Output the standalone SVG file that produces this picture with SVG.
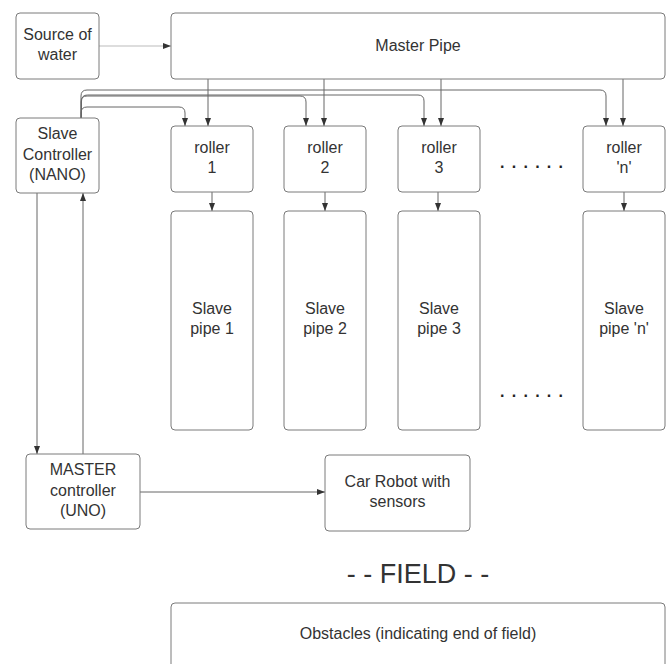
<svg xmlns="http://www.w3.org/2000/svg" width="671" height="664" viewBox="0 0 671 664">
<style>
.box{fill:#fff;stroke:#7a7a7a;stroke-width:1}
.t{font-family:"Liberation Sans",Arial,sans-serif;font-size:16px;fill:#333;text-anchor:middle}
.c{fill:none;stroke:#666;stroke-width:1}
.cl{fill:none;stroke:#bbb;stroke-width:1}
.dots{font-family:"Liberation Sans",Arial,sans-serif;font-size:16px;fill:#222;font-weight:bold}
</style>
<defs>
<marker id="ah" markerUnits="userSpaceOnUse" markerWidth="8" markerHeight="8" viewBox="0 0 8 8" refX="8" refY="4" orient="auto">
<path d="M0,1 L8,4 L0,7 Z" fill="#333"/>
</marker>
</defs>
<rect width="671" height="664" fill="#fff"/>
<g id="connectors">
<path class="cl" d="M99,46 H171" marker-end="url(#ah)"/>
<path class="c" d="M208,79 V126" marker-end="url(#ah)"/>
<path class="c" d="M324,79 V126" marker-end="url(#ah)"/>
<path class="c" d="M441,79 V126" marker-end="url(#ah)"/>
<path class="c" d="M623,79 V126" marker-end="url(#ah)"/>
<path class="c" d="M81,118 V113 Q81,107 87,107 H179 Q185,107 185,113 V126" marker-end="url(#ah)"/>
<path class="c" d="M81,118 V102 Q81,96 87,96 H300 Q306,96 306,102 V126" marker-end="url(#ah)"/>
<path class="c" d="M81.5,118 V101 Q81.5,95 87.5,95 H418 Q424,95 424,101 V126" marker-end="url(#ah)"/>
<path class="c" d="M81,118 V96 Q81,90 87,90 H600 Q606,90 606,96 V126" marker-end="url(#ah)"/>
<path class="c" d="M212,192 V211" marker-end="url(#ah)"/>
<path class="c" d="M325,192 V211" marker-end="url(#ah)"/>
<path class="c" d="M438,192 V211" marker-end="url(#ah)"/>
<path class="c" d="M624,192 V211" marker-end="url(#ah)"/>
<path class="c" d="M37,193 V454" marker-end="url(#ah)"/>
<path class="c" d="M83,454 V193" marker-end="url(#ah)"/>
<path class="c" d="M140,492 H325" marker-end="url(#ah)"/>
</g>
<g id="source"><rect class="box" x="16" y="13" width="83" height="66" rx="4"/><text class="t" x="57.5" y="40">Source of</text><text class="t" x="57.5" y="60">water</text></g>
<g id="master-pipe"><rect class="box" x="171" y="13" width="494" height="66" rx="4"/><text class="t" x="418" y="51">Master Pipe</text></g>
<g id="slave-controller"><rect class="box" x="16" y="118" width="83" height="75" rx="4"/><text class="t" x="57.5" y="139">Slave</text><text class="t" x="57.5" y="160">Controller</text><text class="t" x="57.5" y="180">(NANO)</text></g>
<g id="roller1"><rect class="box" x="171" y="126" width="82" height="66" rx="4"/><text class="t" x="212" y="153">roller</text><text class="t" x="212" y="173">1</text></g>
<g id="roller2"><rect class="box" x="284" y="126" width="82" height="66" rx="4"/><text class="t" x="325" y="153">roller</text><text class="t" x="325" y="173">2</text></g>
<g id="roller3"><rect class="box" x="398" y="126" width="82" height="66" rx="4"/><text class="t" x="439" y="153">roller</text><text class="t" x="439" y="173">3</text></g>
<g id="rollern"><rect class="box" x="583" y="126" width="82" height="66" rx="4"/><text class="t" x="624" y="153">roller</text><text class="t" x="624" y="173">'n'</text></g>
<g id="dots1"><text class="dots" x="500" y="168" textLength="63">......</text></g>
<g id="pipe1"><rect class="box" x="171" y="211" width="82" height="219" rx="4"/><text class="t" x="212" y="314">Slave</text><text class="t" x="212" y="334">pipe 1</text></g>
<g id="pipe2"><rect class="box" x="284" y="211" width="82" height="219" rx="4"/><text class="t" x="325" y="314">Slave</text><text class="t" x="325" y="334">pipe 2</text></g>
<g id="pipe3"><rect class="box" x="398" y="211" width="82" height="219" rx="4"/><text class="t" x="439" y="314">Slave</text><text class="t" x="439" y="334">pipe 3</text></g>
<g id="pipen"><rect class="box" x="583" y="211" width="82" height="219" rx="4"/><text class="t" x="624" y="314">Slave</text><text class="t" x="624" y="334">pipe 'n'</text></g>
<g id="dots2"><text class="dots" x="500" y="397" textLength="63">......</text></g>
<g id="master-controller"><rect class="box" x="26" y="454" width="114" height="75" rx="4"/><text class="t" x="83" y="475">MASTER</text><text class="t" x="83" y="496">controller</text><text class="t" x="83" y="516">(UNO)</text></g>
<g id="car"><rect class="box" x="325" y="455" width="145" height="76" rx="4"/><text class="t" x="397.5" y="487">Car Robot with</text><text class="t" x="397.5" y="507">sensors</text></g>
<g id="field"><text class="t" x="418" y="583" style="font-size:27px">- - FIELD - -</text></g>
<g id="obstacles"><rect class="box" x="171" y="603" width="494" height="90" rx="4"/><text class="t" x="418" y="639">Obstacles (indicating end of field)</text></g>
</svg>
